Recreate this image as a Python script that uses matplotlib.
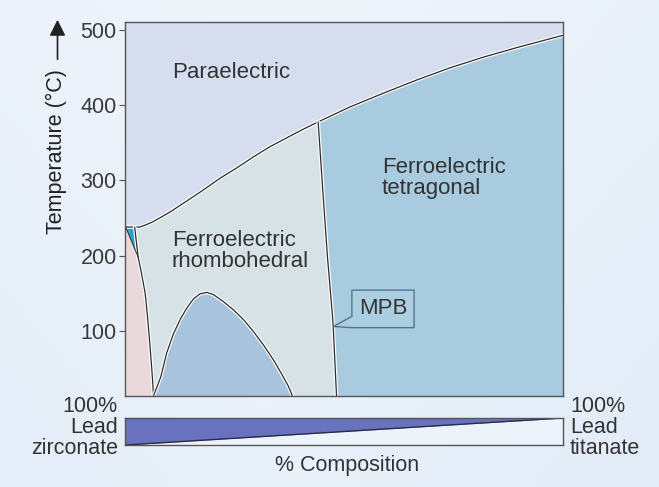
import numpy as np
import matplotlib
matplotlib.use("Agg")
import matplotlib.pyplot as plt
from matplotlib.patches import Polygon, FancyArrowPatch
import matplotlib.patheffects as pe

plt.rcParams['font.family'] = ['Liberation Sans', 'DejaVu Sans']

# Phase boundaries of the PbZrO3–PbTiO3 (PZT) system, composition in % PbTiO3
curie_x = [0.0, 3.4, 4.8, 6.4, 8.2, 10.3, 12.1, 14.2, 17.8, 21.7, 25.6, 29.2, 33.1,
           37.0, 40.6, 44.1, 51.4, 58.9, 66.7, 74.2, 81.7, 89.5, 99.8, 100.0]
curie_t = [238, 238, 241, 245, 251, 258, 265, 273, 287, 303, 317, 331, 345,
           357, 368, 378, 398, 416, 434, 450, 464, 477, 493, 493]

mpb_x = [44.1, 45.0, 46.2, 47.5, 48.4]
mpb_t = [378, 300, 200, 110, 0]

afe_x = [2.2, 3.0, 3.7, 4.6, 5.2, 5.7, 6.1, 6.4, 6.55]
afe_t = [238, 198, 178, 150, 115, 80, 50, 25, 0]

teal_x = [0.15, 2.2, 3.0]
teal_t = [238, 238, 198]

dome_x = [6.4, 6.5, 8.2, 9.5, 11.0, 12.6, 14.1, 15.6, 17.1, 18.7, 20.2, 22.4, 24.7,
          27.0, 29.3, 31.6, 33.9, 35.8, 37.3, 38.1, 38.4]
dome_t = [0, 13, 39, 70, 95, 115, 130, 142, 149, 151, 148, 139, 128,
          115, 99, 81, 61, 42, 26, 15, 0]

y_ticks = [100, 200, 300, 400, 500]

C_PARA = '#d5ddef'
C_RHOMB = '#d6e2e5'
C_TETRA = '#a8cbdf'
C_DOME = '#a8c4dd'
C_AFE = '#e9d8dc'
C_TEAL = '#2ba3d0'
C_LINE = '#2b2b2b'
C_TEXT = '#333333'

fig = plt.figure(figsize=(6.59, 4.87), dpi=100)

# soft bluish page background
bg = fig.add_axes([0, 0, 1, 1], zorder=-10)
gx = np.linspace(0, 1, 200)
gy = np.linspace(0, 1, 150)
GX, GY = np.meshgrid(gx, gy)
light = np.array([0.94, 0.96, 0.985])
dark = np.array([0.86, 0.91, 0.965])
f = np.clip(0.55 * np.abs(GX - 0.4) + 0.35 * GY, 0, 1)
img = light[None, None, :] * (1 - f[..., None]) + dark[None, None, :] * f[..., None]
bg.imshow(img, aspect='auto', extent=[0, 1, 0, 1], origin='upper')
bg.set_axis_off()

ax = fig.add_axes([0.1897, 0.1869, 0.6646, 0.7679])
ax.set_xlim(0, 100)
ax.set_ylim(13, 511)
ax.set_facecolor(C_PARA)

T0 = 0  # below the visible range, clipped by the axes

# ferroelectric rhombohedral region (below Curie line, left of MPB)
i0 = curie_x.index(mpb_x[0])
rhomb = list(zip(curie_x[:i0 + 1], curie_t[:i0 + 1])) + list(zip(mpb_x[1:], mpb_t[1:])) + [(0, T0)]
ax.add_patch(Polygon(rhomb, closed=True, facecolor=C_RHOMB, edgecolor='none', zorder=1))

# ferroelectric tetragonal region (right of MPB)
tetra = list(zip(curie_x[i0:], curie_t[i0:])) + [(100, T0)] + list(zip(mpb_x[::-1], mpb_t[::-1]))
ax.add_patch(Polygon(tetra, closed=True, facecolor=C_TETRA, edgecolor='none', zorder=1))

# antiferroelectric region near PbZrO3
afe = [(0, T0), (0, curie_t[0]), (teal_x[0], teal_t[0])] + list(zip(afe_x[1:], afe_t[1:]))
ax.add_patch(Polygon(afe, closed=True, facecolor=C_AFE, edgecolor='none', zorder=2))

# small high-temperature wedge
ax.add_patch(Polygon(list(zip(teal_x, teal_t)), closed=True, facecolor=C_TEAL,
                     edgecolor='none', zorder=3))

# low-temperature rhombohedral dome
ax.add_patch(Polygon(list(zip(dome_x, dome_t)), closed=True, facecolor=C_DOME,
                     edgecolor='none', zorder=2))

halo = [pe.Stroke(linewidth=2.6, foreground='white'), pe.Normal()]
kw = dict(color=C_LINE, lw=0.9, zorder=5, path_effects=halo,
          solid_capstyle='round', solid_joinstyle='round')
ax.plot(curie_x, curie_t, **kw)
ax.plot(mpb_x, mpb_t, **kw)
ax.plot(afe_x, afe_t, **kw)
ax.plot([teal_x[0], teal_x[2]], [teal_t[0], teal_t[2]], color=C_LINE, lw=0.7, zorder=5)
ax.plot(dome_x, dome_t, **kw)

# region labels
lab = dict(fontsize=16, color=C_TEXT, linespacing=1.0, zorder=6)
ax.text(10.7, 444, 'Paraelectric', ha='left', va='center', **lab)
ax.text(10.7, 206, 'Ferroelectric\nrhombohedral', ha='left', va='center', **lab)
ax.text(58.7, 303, 'Ferroelectric\ntetragonal', ha='left', va='center', **lab)

# MPB callout box with pointer to the boundary
callout = [(51.8, 154), (66.0, 154), (66.0, 104), (51.8, 104),
           (47.6, 105.5), (51.8, 119)]
ax.add_patch(Polygon(callout, closed=True, facecolor='#abcee0', edgecolor='#55738f',
                     lw=1.0, zorder=6))
ax.text(58.9, 129, 'MPB', ha='center', va='center', fontsize=16, color=C_TEXT, zorder=7)

ax.set_xticks([])
ax.set_yticks(y_ticks)
ax.set_yticklabels([str(t) for t in y_ticks], fontsize=15.5, color='#3a3a3a')
ax.tick_params(axis='y', length=4, width=0.8, color='#555555', pad=2)
for s in ax.spines.values():
    s.set_color('#555555')
    s.set_linewidth(1.0)
    s.set_zorder(8)

# y-axis title with upward arrow
fig.text(56 / 659, 1 - 152 / 487, 'Temperature (°C)', rotation=90, ha='center', va='center',
         fontsize=15.5, color='#222222')
fig.patches.append(FancyArrowPatch(
    (57.5 / 659, 1 - 62 / 487), (57.5 / 659, 1 - 17 / 487), transform=fig.transFigure,
    arrowstyle='-|>,head_length=6,head_width=3', color='#222222', lw=1.2, mutation_scale=1.6))

# composition bar
bar = fig.add_axes([125 / 659, 1 - 445 / 487, 438 / 659, 27 / 487])
comp = [0, 100]
zr_frac = [0, 1]
bar.set_xlim(0, 100)
bar.set_ylim(0, 1)
bar.set_facecolor('#edf3fa')
bar.fill_between(comp, zr_frac, 1, color='#6872bf', lw=0)
bar.plot(comp, zr_frac, color='#2b2b4a', lw=1.0)
bar.set_xticks([])
bar.set_yticks([])
for s in bar.spines.values():
    s.set_color('#555555')
    s.set_linewidth(1.0)

end = dict(fontsize=15.5, color=C_TEXT, linespacing=1.0, va='top')
fig.text(118 / 659, 1 - 396 / 487, '100%\nLead\nzirconate', ha='right', **end)
fig.text(570 / 659, 1 - 396 / 487, '100%\nLead\ntitanate', ha='left', **end)
fig.text(347 / 659, 1 - 466 / 487, '% Composition', ha='center', va='center',
         fontsize=15.5, color=C_TEXT)

fig.savefig('out.png', dpi=100)
